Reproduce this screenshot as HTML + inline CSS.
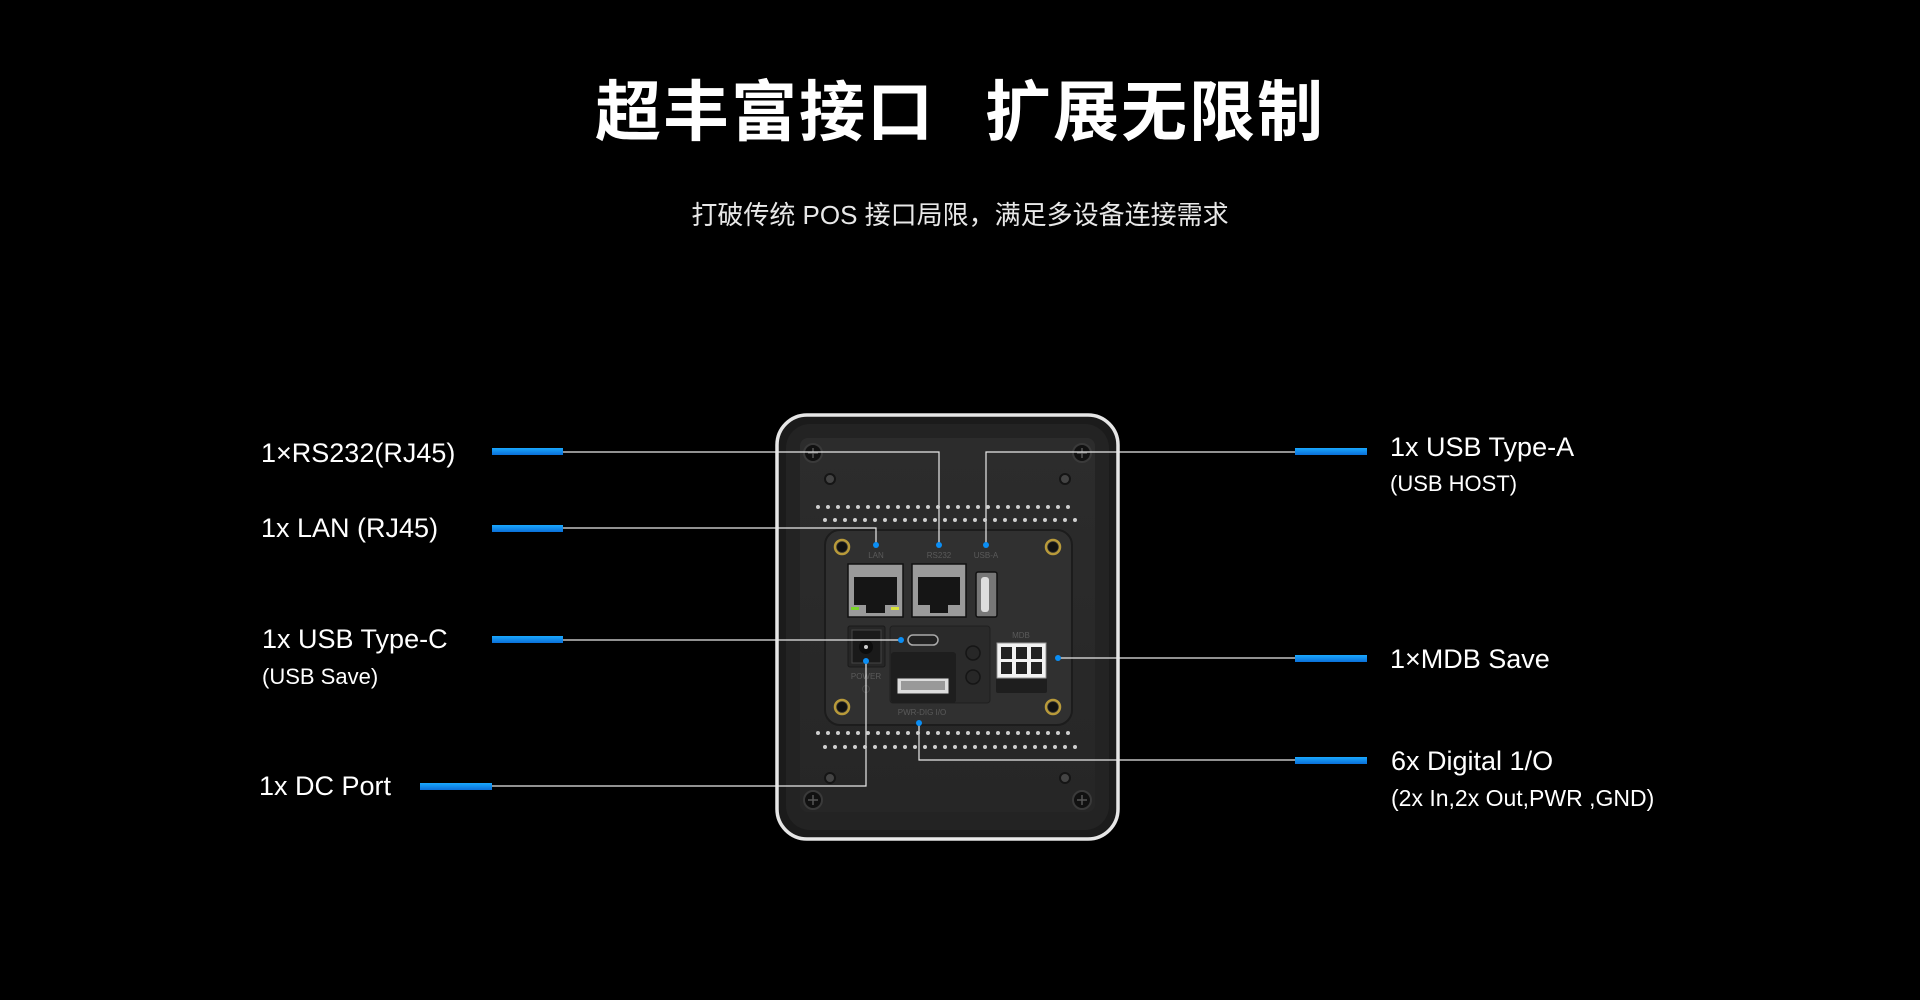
<!DOCTYPE html>
<html><head><meta charset="utf-8"><style>
html,body{margin:0;padding:0;background:#000;}
body{width:1920px;height:1000px;overflow:hidden;position:relative;font-family:"Liberation Sans","Noto Sans CJK SC",sans-serif;}
.t{position:absolute;color:#fff;white-space:nowrap;}
</style></head><body>
<div class="t" style="left:0;width:1920px;top:72px;text-align:center;font-size:66px;font-weight:bold;letter-spacing:2px;line-height:80px;font-family:'Liberation Sans','Noto Sans CJK SC',sans-serif;">超丰富接口<span style="display:inline-block;width:50px"></span>扩展无限制</div>
<div class="t" style="left:0;width:1920px;top:199px;text-align:center;font-size:26px;line-height:32px;color:#e8e8e8;">打破传统 POS 接口局限，满足多设备连接需求</div>

<svg width="1920" height="1000" style="position:absolute;left:0;top:0" xmlns="http://www.w3.org/2000/svg">
<defs>
<linearGradient id="bar" x1="0" y1="0" x2="0" y2="1"><stop offset="0" stop-color="#1aa8ff"/><stop offset="1" stop-color="#0a6fd8"/></linearGradient>
<linearGradient id="body" x1="0" y1="0" x2="0" y2="1"><stop offset="0" stop-color="#2c2c2c"/><stop offset="1" stop-color="#262626"/></linearGradient>
</defs>
<rect x="777" y="415" width="341" height="424" rx="30" fill="#1b1b1b" stroke="#e6e6e6" stroke-width="3.5"/>
<rect x="786" y="424" width="323" height="406" rx="24" fill="#232323"/>
<rect x="800" y="438" width="295" height="374" rx="8" fill="url(#body)"/>
<g fill="#111" stroke="#3a3a3a" stroke-width="2">
<circle cx="813" cy="453" r="9"/><circle cx="1082" cy="453" r="9"/><circle cx="813" cy="800" r="9"/><circle cx="1082" cy="800" r="9"/>
</g>
<g stroke="#555" stroke-width="1.5"><path d="M808 453h10M813 448v10M1077 453h10M1082 448v10M808 800h10M813 795v10M1077 800h10M1082 795v10"/></g>
<g fill="#444" stroke="#151515" stroke-width="2">
<circle cx="830" cy="479" r="5"/><circle cx="1065" cy="479" r="5"/><circle cx="830" cy="778" r="5"/><circle cx="1065" cy="778" r="5"/>
</g>
<rect x="825" y="530" width="247" height="195" rx="15" fill="#303030" stroke="#1c1c1c" stroke-width="2"/>
<g fill="none" stroke="#b89a3a" stroke-width="2.5">
<circle cx="842" cy="547" r="7"/><circle cx="1053" cy="547" r="7"/><circle cx="842" cy="707" r="7"/><circle cx="1053" cy="707" r="7"/>
</g>
<g fill="#111"><circle cx="842" cy="547" r="5"/><circle cx="1053" cy="547" r="5"/><circle cx="842" cy="707" r="5"/><circle cx="1053" cy="707" r="5"/></g>
<g font-family="Liberation Sans,sans-serif" font-size="8" fill="#5a5a5a" text-anchor="middle">
<text x="876" y="558">LAN</text><text x="939" y="558">RS232</text><text x="986" y="558">USB-A</text>
<text x="866" y="679">POWER</text><text x="922" y="715">PWR-DIG I/O</text><text x="1021" y="638">MDB</text>
<text x="973" y="639">RESET</text><text x="973" y="699">SVC</text><text x="923" y="631" font-size="6">USB-C</text>
</g>
<g>
<rect x="848" y="564" width="55" height="53" fill="#9a9a9a" stroke="#111" stroke-width="1.5"/>
<rect x="854" y="577" width="43" height="28" fill="#151515"/><rect x="866" y="605" width="19" height="8" fill="#151515"/>
<rect x="851" y="607" width="8" height="3" fill="#7bd62a"/><rect x="891" y="607" width="8" height="3" fill="#d8e23a"/>
<rect x="912" y="564" width="54" height="53" fill="#9a9a9a" stroke="#111" stroke-width="1.5"/>
<rect x="918" y="577" width="42" height="28" fill="#151515"/><rect x="930" y="605" width="18" height="8" fill="#151515"/>
<rect x="976" y="572" width="21" height="45" rx="2" fill="#777" stroke="#111" stroke-width="1.5"/>
<rect x="981" y="577" width="8" height="35" rx="3" fill="#ddd"/>
</g>
<rect x="848" y="626" width="37" height="41" rx="2" fill="#262626" stroke="#1a1a1a"/>
<rect x="852" y="630" width="29" height="33" fill="#1a1a1a" stroke="#444"/>
<circle cx="866" cy="647" r="7" fill="#0c0c0c"/><circle cx="866" cy="647" r="2" fill="#ccc"/>
<circle cx="866" cy="689" r="3.5" fill="none" stroke="#444"/>
<rect x="890" y="626" width="100" height="77" rx="3" fill="#2a2a2a" stroke="#1f1f1f"/>
<rect x="908" y="635" width="30" height="10" rx="5" fill="#222" stroke="#aaa" stroke-width="1.5"/>
<rect x="891" y="652" width="65" height="51" rx="3" fill="#1e1e1e"/>
<rect x="897" y="678" width="52" height="16" fill="#ddd" stroke="#222"/><rect x="901" y="681" width="44" height="9" fill="#999"/>
<circle cx="973" cy="653" r="7" fill="#272727" stroke="#151515" stroke-width="1.5"/>
<circle cx="973" cy="677" r="7" fill="#272727" stroke="#151515" stroke-width="1.5"/>
<rect x="996" y="643" width="51" height="50" rx="2" fill="#1e1e1e"/>
<rect x="997" y="643" width="49" height="35" fill="#f2f2f2" stroke="#999"/>
<g fill="#222"><rect x="1001" y="647" width="11" height="12"/><rect x="1016" y="647" width="11" height="12"/><rect x="1031" y="647" width="11" height="12"/>
<rect x="1001" y="662" width="11" height="12"/><rect x="1016" y="662" width="11" height="12"/><rect x="1031" y="662" width="11" height="12"/></g>
<g fill="none" stroke="#e8e8e8" stroke-width="1.2">
<path d="M562 452H939V545"/>
<path d="M562 528H876V545"/>
<path d="M562 640H901"/>
<path d="M492 786H866V661"/>
<path d="M986 545V452H1295"/>
<path d="M1058 658H1295"/>
<path d="M919 723V760H1295"/>
</g>
<g fill="#0a8ef5"><circle cx="876" cy="545" r="3"/><circle cx="939" cy="545" r="3"/><circle cx="986" cy="545" r="3"/><circle cx="901" cy="640" r="3"/><circle cx="866" cy="661" r="3"/><circle cx="1058" cy="658" r="3"/><circle cx="919" cy="723" r="3"/></g>
<g fill="url(#bar)">
<rect x="492" y="448" width="71" height="7"/><rect x="492" y="525" width="71" height="7"/><rect x="492" y="636" width="71" height="7"/><rect x="420" y="783" width="72" height="7"/>
<rect x="1295" y="448" width="72" height="7"/><rect x="1295" y="655" width="72" height="7"/><rect x="1295" y="757" width="72" height="7"/>
</g>
<g font-family="Liberation Sans,sans-serif" fill="#fff">
<text x="261" y="462" font-size="27">1×RS232(RJ45)</text>
<text x="261" y="537" font-size="27">1x LAN (RJ45)</text>
<text x="262" y="648" font-size="27">1x USB Type-C</text>
<text x="262" y="684" font-size="22">(USB Save)</text>
<text x="259" y="795" font-size="27">1x DC Port</text>
<text x="1390" y="456" font-size="27">1x USB Type-A</text>
<text x="1390" y="491" font-size="22">(USB HOST)</text>
<text x="1390" y="668" font-size="27">1×MDB Save</text>
<text x="1391" y="770" font-size="27">6x Digital 1/O</text>
<text x="1391" y="806" font-size="23">(2x In,2x Out,PWR ,GND)</text>
</g>
<g fill="none" stroke="#cfcfcf" stroke-width="4" stroke-linecap="round" stroke-dasharray="0 10">
<path d="M818 507H1073"/>
<path d="M825 520H1078"/>
<path d="M818 733H1073"/>
<path d="M825 747H1078"/>
</g>
</svg>
</body></html>
